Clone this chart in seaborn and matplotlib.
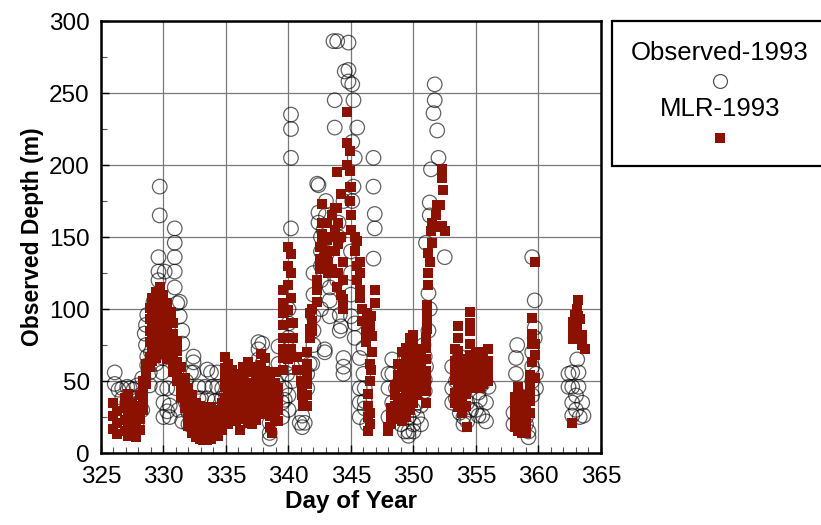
import matplotlib
matplotlib.use("Agg")
import matplotlib.pyplot as plt
from matplotlib.lines import Line2D
from matplotlib.patches import Rectangle
from matplotlib.ticker import MultipleLocator
import seaborn as sns
import pandas as pd

# Observed depths (m) by day of year, grouped as (day, [depths])
obs_326_330 = [
    (326.1, [56, 48]), (326.4, [44]), (326.7, [45, 38]), (326.9, [25]),
    (327.1, [46, 35]), (327.3, [45, 30]), (327.6, [44, 38, 30]), (327.9, [47, 22]),
    (328.1, [35, 40]), (328.3, [52, 30]), (328.5, [83]), (328.6, [89, 75]),
    (328.7, [96, 67, 61]), (328.9, [56, 47]), (329.0, [70]), (329.2, [105]),
    (329.3, [85, 76]), (329.4, [62]), (329.5, [95]), (329.6, [136, 126, 120]),
    (329.7, [185, 165]), (329.9, [56, 45]), (330.0, [35, 25, 86, 66]), (330.1, [126]),
]
obs_330_335 = [
    (330.3, [29, 45]), (330.5, [25, 33]), (330.9, [156, 146, 136, 126, 115]),
    (331.0, [45]), (331.1, [104]), (331.2, [30]), (331.3, [105, 95]),
    (331.5, [85, 76, 22]), (331.8, [50, 35]), (332.0, [40, 28, 20]),
    (332.2, [56, 32]), (332.4, [67, 63, 56]), (332.6, [26, 18]), (332.8, [46, 38]),
    (333.0, [38, 28, 15]), (333.3, [46, 22]), (333.5, [38, 30, 58]),
    (333.8, [56, 25]), (333.9, [46]), (334.1, [36, 28]), (334.3, [46, 56]),
    (334.5, [30]), (334.7, [38, 45]),
]
obs_335_340 = [
    (335.0, [40, 30]), (335.3, [45]), (335.6, [35, 25]), (336.0, [40, 28]),
    (336.3, [45, 22]), (336.7, [50, 35]), (337.0, [42]), (337.3, [55, 30]),
    (337.6, [77, 72, 65, 58]), (337.9, [76, 62, 50]), (338.2, [45, 35]),
    (338.5, [21, 14, 10]), (338.7, [28]), (339.0, [50, 40]), (339.2, [74, 62]),
    (339.5, [35, 25]), (339.7, [45, 37]), (339.9, [62, 55]),
]
obs_340_345 = [
    (340.0, [100, 90, 80, 70, 40, 30]), (340.2, [235, 225, 205, 156]),
    (340.3, [60, 50]), (340.9, [21]), (341.1, [18, 26]), (341.3, [21]),
    (341.5, [45, 55]), (341.7, [62]), (341.9, [62]),
    (342.0, [125, 110, 95, 85, 75]), (342.3, [187]), (342.4, [186, 167, 160]),
    (342.6, [150, 140, 130, 120, 100]), (342.8, [155]), (342.9, [135, 72, 70]),
    (343.0, [175, 165]), (343.1, [139]), (343.3, [115, 106, 95]),
    (343.6, [286]), (343.7, [245, 226]), (343.9, [286, 120]), (344.0, [150, 160]),
    (344.1, [96, 85]), (344.2, [88]), (344.4, [175, 66, 60, 55]), (344.5, [265]),
    (344.8, [266, 258, 285]),
]
obs_345_350 = [
    (345.0, [140, 125, 110, 95]), (345.1, [256, 216, 175]), (345.2, [245, 185]),
    (345.3, [205, 90, 80]), (345.5, [226]), (345.7, [66, 45, 35, 25]),
    (346.0, [73, 55]), (346.1, [45, 36, 31]), (346.3, [20]),
    (346.8, [205, 185, 135]), (346.9, [166, 156]), (348.0, [55, 45, 25]),
    (348.3, [65, 55, 35]), (348.6, [45, 30]), (349.0, [55, 40, 20]),
    (349.3, [65, 30, 15]), (349.6, [25, 15, 12]),
]
obs_350_355 = [
    (350.0, [20, 30, 15]), (350.3, [25, 35, 45]), (350.6, [33, 20]),
    (350.8, [75]), (350.9, [67, 51, 43]), (351.0, [146, 60]), (351.2, [111, 85]),
    (351.3, [174, 165, 100]), (351.4, [197]), (351.6, [236]), (351.7, [256, 245]),
    (351.9, [224]), (352.0, [205]), (352.5, [136]), (353.1, [60, 45, 35]),
    (353.4, [50, 38]), (353.7, [67, 58, 28]), (354.0, [42, 25, 20]),
    (354.3, [35, 22]), (354.6, [48, 30]),
]
obs_355_360 = [
    (355.0, [55, 30]), (355.2, [42, 26]), (355.3, [37]), (355.5, [55, 48, 26]),
    (355.8, [35, 22]), (356.0, [46]), (358.0, [28, 20]), (358.2, [66, 55]),
    (358.3, [75]), (358.5, [40, 30]), (359.0, [25, 20]), (359.2, [15, 11]),
    (359.5, [136, 70, 60, 50, 40]), (359.7, [106, 87, 80]), (359.8, [55, 45]),
]
obs_360_365 = [
    (362.4, [55, 46]), (362.7, [56, 46, 35, 26]), (363.0, [40, 30]),
    (363.1, [65]), (363.2, [56, 46]), (363.3, [25]), (363.5, [35]), (363.6, [26]),
]

# MLR model depths (m) by day of year
mlr_326_330 = [
    (326.0, [35, 26, 17]), (326.3, [29, 21, 13]), (326.9, [38, 31, 23, 15]),
    (327.2, [41, 33, 26, 18, 12]), (327.5, [35, 28, 19, 13]), (327.8, [30, 23, 16, 11]),
    (328.1, [40, 33, 24, 16]), (328.4, [50, 43, 37, 30]), (328.6, [62, 55, 48]),
    (328.9, [101, 93, 85, 77, 67, 60]), (329.1, [108, 99, 88, 81, 71, 64]),
    (329.4, [112, 105, 95, 88, 81, 73, 66]), (329.7, [115, 107, 101, 93, 84, 78, 70]),
    (330.0, [110, 102, 96, 90, 82, 75, 69]),
]
mlr_330_335 = [
    (330.3, [104, 95, 88, 81, 72, 65]), (330.6, [98, 91, 82, 74, 68]),
    (330.8, [90, 83, 75, 69, 61, 56]), (331.1, [78, 71, 63, 57, 50]),
    (331.4, [60, 52, 46, 39]), (331.7, [52, 44, 38, 31]),
    (332.0, [45, 37, 31, 25, 19]), (332.3, [40, 34, 26, 20, 14]),
    (332.6, [35, 29, 22, 16, 11]), (332.9, [33, 27, 20, 14, 10]),
    (333.2, [32, 25, 18, 13, 9]), (333.5, [30, 23, 18, 12, 9]),
    (333.8, [32, 26, 19, 14, 10]), (334.1, [30, 24, 17, 13]),
    (334.4, [28, 21, 16, 12]), (334.7, [35, 29, 22, 16]),
    (334.9, [67, 59, 52, 46, 38]),
]
mlr_335_340 = [
    (335.2, [62, 55, 47, 41, 34, 27, 20]), (335.5, [58, 51, 43, 36, 29, 22]),
    (335.8, [50, 42, 36, 29, 22]), (336.1, [55, 47, 41, 33, 27, 16]),
    (336.4, [60, 53, 45, 38, 30, 24]), (336.8, [63, 56, 48, 42, 35, 28, 21]),
    (337.1, [56, 49, 41, 34, 26, 20]), (337.4, [60, 51, 44, 37, 31, 23]),
    (337.8, [69, 61, 55, 47, 41, 34, 27]), (338.1, [66, 57, 50, 43, 35, 28]),
    (338.5, [55, 47, 41, 34, 26, 18]), (338.7, [14]), (338.9, [56, 49, 40, 32, 25]),
    (339.2, [45, 37, 30, 22]), (339.6, [113, 104, 97, 89, 80, 72, 66, 58]),
]
mlr_340_345 = [
    (340.0, [143, 130, 117, 99, 80, 65]), (340.2, [138, 125, 108, 90, 72]),
    (340.4, [90, 80]), (340.7, [67, 58]), (341.0, [58, 50]), (341.1, [46, 40]),
    (341.2, [37, 33]), (341.5, [70, 62, 55, 48, 40, 33]), (341.7, [97, 86, 80]),
    (341.9, [100, 92, 85]), (342.3, [120, 113, 105]), (342.5, [143, 135, 128]),
    (342.7, [173, 160, 152, 145]), (342.9, [150, 140, 132]),
    (343.1, [160, 148, 138]), (343.2, [133, 125]), (343.5, [165, 150, 140, 128]),
    (343.7, [170, 155, 140]), (343.9, [195, 170, 125, 115]), (344.0, [160, 145, 125]),
    (344.2, [180, 150, 110]), (344.4, [133, 120, 107, 100]),
    (344.7, [237, 215, 200]), (344.9, [210, 196, 185, 175]),
]
mlr_345_350 = [
    (345.0, [185, 165, 155]), (345.3, [150, 140]), (345.5, [147, 130, 120]),
    (345.7, [133, 125, 113, 108]), (345.9, [100, 92]), (346.2, [84, 77]),
    (346.3, [97, 90]), (346.4, [41, 33, 25, 15]), (346.5, [88, 62, 50, 28, 20]),
    (346.6, [95, 58]), (346.7, [81, 70]), (346.9, [113, 104]),
    (348.0, [15, 18]), (348.2, [20, 26, 31]), (348.5, [24, 33, 40, 47]),
    (348.8, [30, 37, 46, 54, 62]), (349.1, [22, 29, 38, 47, 53, 61, 70]),
    (349.4, [25, 34, 41, 48, 57, 64, 73]), (349.7, [30, 39, 46, 53, 63, 70, 80]),
    (350.0, [35, 42, 51, 60, 66, 75, 82]),
]
mlr_350_355 = [
    (350.3, [40, 47, 56, 63, 72]), (350.6, [45, 53, 60, 68]),
    (351.0, [80, 73, 65, 57, 50, 43, 35]), (351.1, [103, 97, 92, 86]),
    (351.2, [139, 125, 117]), (351.3, [133]), (351.4, [154]), (351.5, [160, 146]),
    (351.8, [165]), (351.9, [172, 157]), (352.1, [172]), (352.3, [197, 191, 158]),
    (352.4, [183]), (352.5, [154]), (353.3, [72, 64, 58, 51, 42, 35]),
    (353.6, [88, 80, 71, 62, 55, 47, 40, 32]), (353.9, [65, 57, 50, 44, 36, 28]),
    (354.2, [62, 54, 48, 41, 33]), (354.3, [18]),
    (354.5, [98, 90, 85, 76, 68, 61, 52, 45]),
]
mlr_355_360 = [
    (355.0, [70, 63, 55, 48]), (355.3, [68, 59, 52, 45]), (355.6, [70, 61, 55, 48]),
    (356.0, [72, 64, 57, 50]), (358.1, [39, 32, 25, 18]), (358.4, [46, 38, 31, 22, 15]),
    (358.7, [40, 33, 26, 19, 14]), (359.0, [35, 28, 21, 14]),
    (359.3, [54, 47, 43, 36, 28]), (359.5, [94, 83, 76, 63]), (359.7, [133, 76, 68, 52]),
]
mlr_360_365 = [
    (362.7, [21]), (362.8, [91, 79, 85]), (362.9, [96, 88]), (363.1, [86, 100]),
    (363.2, [106, 95]), (363.3, [93, 80]), (363.5, [82, 75]), (363.7, [72]),
]

x_ticks = [325, 330, 335, 340, 345, 350, 355, 360, 365]
y_ticks = [0, 50, 100, 150, 200, 250, 300]


def to_frame(*groups):
    rows = [(day, depth) for group in groups for day, depths in group for depth in depths]
    return pd.DataFrame(rows, columns=["day", "depth"])


observed = to_frame(obs_326_330, obs_330_335, obs_335_340, obs_340_345,
                    obs_345_350, obs_350_355, obs_355_360, obs_360_365)
mlr = to_frame(mlr_326_330, mlr_330_335, mlr_335_340, mlr_340_345,
               mlr_345_350, mlr_350_355, mlr_355_360, mlr_360_365)

sns.set_theme(style="white")
plt.rcParams["font.family"] = ["Liberation Sans", "DejaVu Sans"]
plt.rcParams.update({"text.color": "black", "axes.labelcolor": "black",
                     "xtick.color": "black", "ytick.color": "black"})

RED = "#8b1200"

fig = plt.figure(figsize=(8.21, 5.25), dpi=100)
ax = fig.add_axes([0.123, 0.137, 0.609, 0.823])

sns.scatterplot(data=observed, x="day", y="depth", ax=ax, marker="o", s=110,
                legend=False, zorder=3)
circles = ax.collections[-1]
circles.set_facecolor("none")
circles.set_edgecolor((0, 0, 0, 0.62))
circles.set_linewidth(0.9)

sns.scatterplot(data=mlr, x="day", y="depth", ax=ax, marker="s", s=46,
                color=RED, linewidth=0, legend=False, zorder=4)

ax.set_xlim(x_ticks[0], x_ticks[-1])
ax.set_ylim(y_ticks[0], y_ticks[-1])
ax.set_xticks(x_ticks)
ax.set_yticks(y_ticks)
ax.xaxis.set_minor_locator(MultipleLocator(1))
ax.yaxis.set_minor_locator(MultipleLocator(25))
ax.grid(True, which="major", color="#7a7a7a", linewidth=0.9, zorder=0)
ax.set_axisbelow(True)
ax.tick_params(axis="both", which="major", direction="in", length=6, width=1,
               labelsize=17.5, bottom=True, left=True, color="black")
ax.tick_params(axis="x", which="major", pad=9)
ax.tick_params(axis="y", which="major", pad=8)
ax.tick_params(axis="both", which="minor", direction="in", length=4, width=0.8,
               bottom=True, left=True, color="#555555")
for sp in ax.spines.values():
    sp.set_color("black")
    sp.set_linewidth(1.8)

ax.set_xlabel("Day of Year", fontsize=17.5, fontweight="bold", labelpad=2)
ax.set_ylabel("Observed Depth (m)", fontsize=16.5, fontweight="bold", labelpad=4)

# Legend panel to the right of the plot
fig.patches.append(Rectangle((0.745, 0.684), 0.30, 0.276, transform=fig.transFigure,
                             facecolor="white", edgecolor="black", linewidth=1.6))
fig.text(0.877, 0.900, "Observed-1993", ha="center", va="center", fontsize=18.5)
fig.lines.append(Line2D([0.877], [0.846], transform=fig.transFigure, marker="o",
                        markersize=10, markerfacecolor="none",
                        markeredgecolor="#555555", markeredgewidth=0.9))
fig.text(0.877, 0.792, "MLR-1993", ha="center", va="center", fontsize=18.5)
fig.lines.append(Line2D([0.877], [0.737], transform=fig.transFigure, marker="s",
                        markersize=6.5, markerfacecolor=RED, markeredgewidth=0))

fig.savefig("out.png", dpi=100)
